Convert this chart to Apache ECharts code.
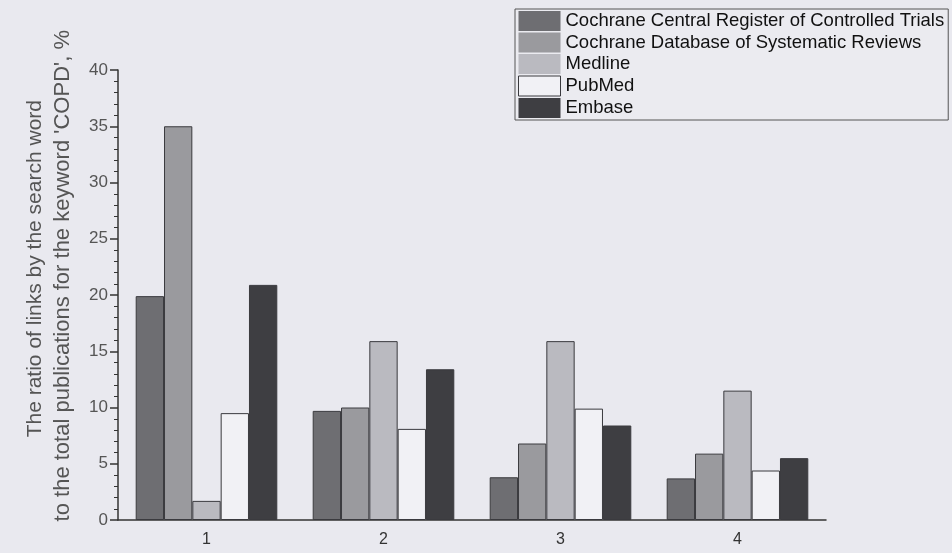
<!DOCTYPE html>
<html>
<head>
<meta charset="utf-8">
<script src="https://cdn.jsdelivr.net/npm/echarts@6/dist/echarts.min.js"></script>
<style>
html, body { margin: 0; padding: 0; background: #e9e9ef; }
#main { width: 952px; height: 553px; }
</style>
</head>
<body>
<div id="main"></div>
<script>
var categories = ['1', '2', '3', '4'];
var seriesNames = [
    'Cochrane Central Register of Controlled Trials',
    'Cochrane Database of Systematic Reviews',
    'Medline',
    'PubMed',
    'Embase'
];
var centralValues = [19.9, 9.7, 3.8, 3.7];
var databaseValues = [35.0, 10.0, 6.8, 5.9];
var medlineValues = [1.7, 15.9, 15.9, 11.5];
var pubmedValues = [9.5, 8.1, 9.9, 4.4];
var embaseValues = [20.9, 13.4, 8.4, 5.5];
var yTicks = [0, 5, 10, 15, 20, 25, 30, 35, 40];

var fills = ['#6e6e72', '#9a9a9e', '#babac0', '#f1f1f5', '#3e3e42'];
var allValues = [centralValues, databaseValues, medlineValues, pubmedValues, embaseValues];

var myChart = echarts.init(document.getElementById('main'));

var series = [];
var legendData = [];
for (var i = 0; i < seriesNames.length; i++) {
    series.push({
        name: seriesNames[i],
        type: 'bar',
        data: allValues[i],
        barGap: '0%',
        barCategoryGap: '20%',
        itemStyle: {
            color: fills[i],
            borderColor: '#3a3a3e',
            borderWidth: 1
        }
    });
    //图例色块不要边框，PubMed是白色的保留边框
    legendData.push({
        name: seriesNames[i],
        itemStyle: {borderWidth: seriesNames[i] === 'PubMed' ? 1 : 0}
    });
}

var option = {
    backgroundColor: '#e9e9ef',
    animation: false,
    textStyle: {fontFamily: 'Liberation Sans, Arial, sans-serif'},
    grid: {left: 118, right: 126, top: 70, bottom: 33},
    legend: {
        orient: 'vertical',
        left: 515,
        top: 9,
        padding: [2, 4, 2, 3],
        itemWidth: 42,
        itemHeight: 20,
        itemGap: 1.5,
        borderColor: '#555',
        borderWidth: 1,
        backgroundColor: '#ebebf0',
        icon: 'rect',
        data: legendData,
        textStyle: {fontSize: 18.5, color: '#111'}
    },
    //y轴标题，两行
    graphic: [
        {
            type: 'text',
            left: 25,
            top: 100,
            rotation: Math.PI / 2,
            style: {
                text: 'The ratio of links by the search word',
                font: '21px Liberation Sans, Arial, sans-serif',
                fill: '#555'
            }
        },
        {
            type: 'text',
            left: 52,
            top: 30,
            rotation: Math.PI / 2,
            style: {
                text: "to the total publications for the keyword 'COPD', %",
                font: '22px Liberation Sans, Arial, sans-serif',
                fill: '#555'
            }
        }
    ],
    xAxis: [
        {
            type: 'category',
            data: categories,
            axisLine: {lineStyle: {color: '#333', width: 1.5}},
            axisTick: {alignWithLabel: true, length: 8, lineStyle: {color: '#333', width: 1.5}},
            axisLabel: {fontSize: 16, color: '#333', margin: 12}
        },
        {
            type: 'category',
            data: categories,
            position: 'bottom',
            axisLine: {show: false},
            axisTick: {length: 4, lineStyle: {color: '#444'}},
            axisLabel: {show: false}
        }
    ],
    yAxis: {
        type: 'value',
        min: 0,
        max: 40,
        interval: 5,
        axisLine: {show: true, lineStyle: {color: '#333', width: 1.5}},
        axisTick: {show: true, length: 8, lineStyle: {color: '#333', width: 1.5}},
        minorTick: {show: true, splitNumber: 5, length: 4, lineStyle: {color: '#333'}},
        axisLabel: {
            fontSize: 17,
            color: '#555',
            margin: 10,
            formatter: function (v) {
                return yTicks.indexOf(v) >= 0 ? String(v) : '';
            }
        },
        splitLine: {show: false}
    },
    series: series
};

myChart.setOption(option);
</script>
</body>
</html>
